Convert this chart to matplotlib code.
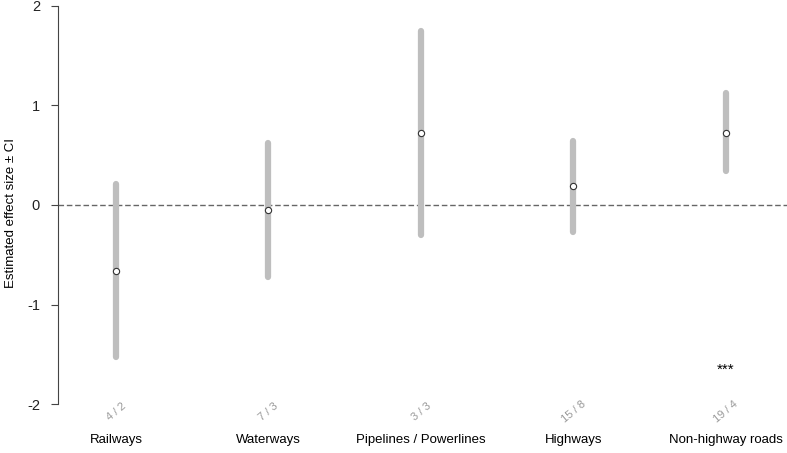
import numpy as np
import matplotlib.pyplot as plt

plt.rcParams['font.family'] = ['Liberation Sans', 'DejaVu Sans']

categories = ["Railways", "Waterways", "Pipelines / Powerlines", "Highways", "Non-highway roads"]
counts = ["4 / 2", "7 / 3", "3 / 3", "15 / 8", "19 / 4"]
estimate = [-0.66, -0.05, 0.72, 0.19, 0.72]
ci_low = [-1.53, -0.72, -0.30, -0.27, 0.34]
ci_high = [0.21, 0.62, 1.75, 0.64, 1.12]
signif = ["", "", "", "", "***"]

x = np.arange(1, len(categories) + 1)

fig = plt.figure(figsize=(7.87, 4.53), dpi=100)
ax = fig.add_axes([0.0737, 0.108, 0.9263, 0.879])

ax.axhline(0, color="#666666", lw=1, ls=(0, (4, 2)), zorder=1)
ax.vlines(x, ci_low, ci_high, color="#bebebe", lw=4.5, capstyle="round", zorder=2)
ax.plot(x, estimate, "o", ms=4.5, mfc="white", mec="#333333", mew=0.8, zorder=3)

for xi, c in zip(x, counts):
    ax.text(xi, -2.075, c, rotation=40, ha="center", va="center", color="#999999",
            fontsize=8, clip_on=False)
for xi, c in zip(x, categories):
    ax.text(xi, -2.36, c, ha="center", va="center", color="black", fontsize=9.5,
            clip_on=False)
for xi, s in zip(x, signif):
    if s:
        ax.text(xi, -1.66, s, ha="center", va="center", fontsize=11)

ax.set_xlim(0.62, 5.4)
ax.set_ylim(-2, 2)
ax.set_yticks([-2, -1, 0, 1, 2])
ax.set_yticklabels(["-2", "-1", "0", "1", "2"], fontsize=10.5, color="#222222")
ax.set_xticks([])
ax.set_ylabel("Estimated effect size ± CI", fontsize=9.5)
ax.yaxis.set_label_coords(-0.056, 0.48)
for s in ["top", "right", "bottom"]:
    ax.spines[s].set_visible(False)
ax.spines["left"].set_color("#444444")
ax.tick_params(axis="y", length=5, color="#444444", pad=8)

fig.savefig("out.png", dpi=100)
